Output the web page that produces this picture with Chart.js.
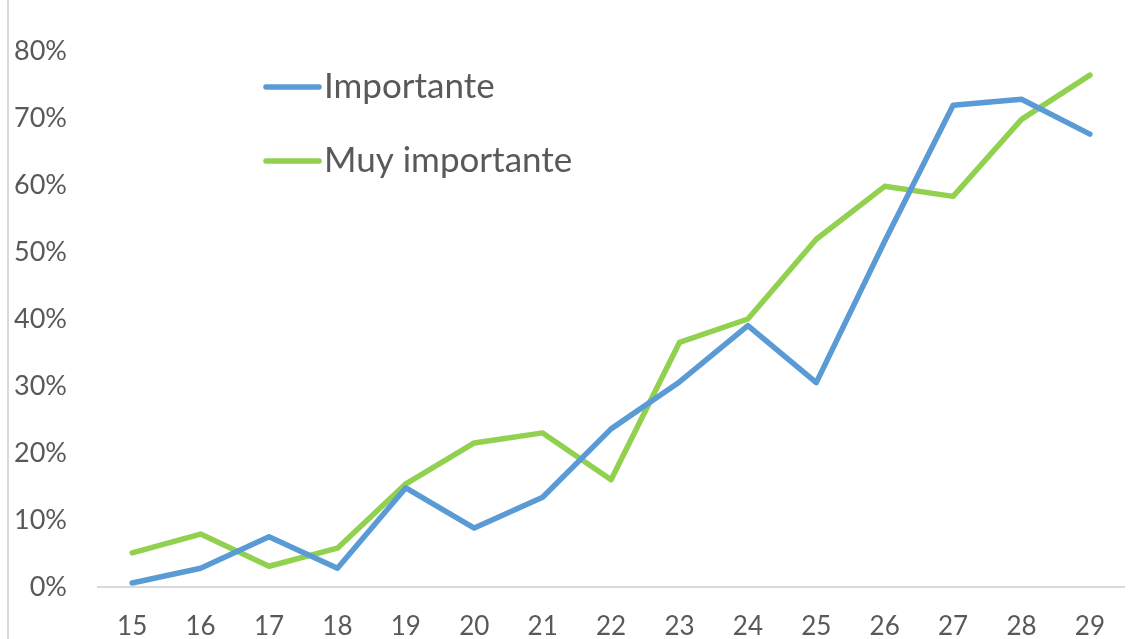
<!DOCTYPE html>
<html>
<head>
<meta charset="utf-8">
<script src="https://cdn.jsdelivr.net/npm/chart.js@4/dist/chart.umd.min.js"></script>
<style>
  html, body { margin: 0; padding: 0; background: #fff; }
  #wrap { position: relative; width: 1129px; height: 639px; }
  #edge { position: absolute; left: 7px; top: 0; width: 2px; height: 639px; background: #d9d9d9; }
</style>
</head>
<body>
<div id="wrap">
  <canvas id="myChart" width="1129" height="639"></canvas>
  <div id="edge"></div>
</div>
<script>
const ages = ['15', '16', '17', '18', '19', '20', '21', '22', '23', '24', '25', '26', '27', '28', '29'];
const importante = [0.6, 2.8, 7.5, 2.8, 14.8, 8.8, 13.4, 23.6, 30.6, 39.0, 30.5, 51.6, 71.9, 72.8, 67.6];
const muyImportante = [5.1, 7.9, 3.1, 5.8, 15.4, 21.5, 23.0, 16.0, 36.5, 40.0, 51.9, 59.8, 58.3, 69.8, 76.4];
const seriesNames = ['Importante', 'Muy importante'];

const textColor = '#595959';
const fontFamily = 'Lato, "Open Sans", sans-serif';

// legend drawn inside the plot, like the original
const insideLegend = {
    id: 'insideLegend',
    afterDraw(chart) {
        const ctx = chart.ctx;
        ctx.save();
        ctx.font = '35px ' + fontFamily;
        ctx.textBaseline = 'middle';
        chart.data.datasets.forEach((ds, i) => {
            const y = 87 + i * 74;
            ctx.strokeStyle = ds.borderColor;
            ctx.lineWidth = 5.5;
            ctx.lineCap = 'round';
            ctx.beginPath();
            ctx.moveTo(266, y);
            ctx.lineTo(319, y);
            ctx.stroke();
            ctx.fillStyle = textColor;
            ctx.fillText(ds.label, 324, y);
        });
        ctx.restore();
    }
};

const ctx = document.getElementById('myChart').getContext('2d');
new Chart(ctx, {
    type: 'line',
    data: {
        labels: ages,
        datasets: [
            {
                label: seriesNames[0],
                data: importante,
                borderColor: '#5b9bd5',
                borderWidth: 5.5,
                pointRadius: 0,
                tension: 0,
                borderCapStyle: 'round',
                borderJoinStyle: 'round'
            },
            {
                label: seriesNames[1],
                data: muyImportante,
                borderColor: '#92d050',
                borderWidth: 5.5,
                pointRadius: 0,
                tension: 0,
                borderCapStyle: 'round',
                borderJoinStyle: 'round'
            }
        ]
    },
    options: {
        responsive: false,
        animation: false,
        layout: { padding: { top: 51, right: 0, left: 0, bottom: 0 } },
        plugins: {
            legend: { display: false },
            tooltip: { enabled: false }
        },
        scales: {
            x: {
                offset: true,
                grid: { display: false, drawTicks: false },
                border: { display: true, color: '#d9d9d9', width: 2 },
                ticks: { color: textColor, font: { family: fontFamily, size: 26 }, padding: 24, maxRotation: 0 },
                afterFit(scale) { scale.height = 52; }
            },
            y: {
                min: 0,
                max: 80,
                grid: { display: false, drawTicks: false },
                border: { display: false },
                ticks: {
                    stepSize: 10,
                    color: textColor,
                    font: { family: fontFamily, size: 27 },
                    padding: 31,
                    callback: (v) => v + '%'
                },
                afterFit(scale) { scale.width = 98; }
            }
        }
    },
    plugins: [insideLegend]
});
</script>
</body>
</html>
